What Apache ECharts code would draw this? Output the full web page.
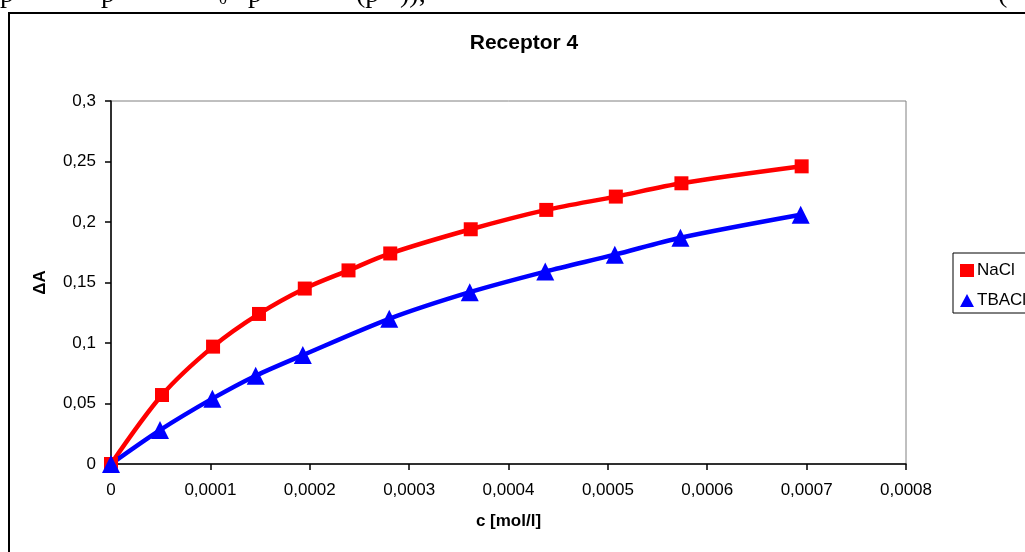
<!DOCTYPE html>
<html>
<head>
<meta charset="utf-8">
<script src="https://cdn.jsdelivr.net/npm/echarts@6/dist/echarts.min.js"></script>
<style>
html,body{margin:0;padding:0;background:#fff;}
#chart{width:1025px;height:552px;}
</style>
</head>
<body>
<div id="chart"></div>
<script>
var chartTitle = 'Receptor 4';
var xName = 'c [mol/l]';
var yName = '\u0394A';
var seriesNames = ['NaCl', 'TBACl'];
var cNaCl = [0, 0.0000513, 0.0001027, 0.0001489, 0.000195, 0.000239, 0.000281, 0.000362, 0.000438, 0.000508, 0.000574, 0.000695];
var aNaCl = [0, 0.057, 0.097, 0.124, 0.145, 0.160, 0.174, 0.194, 0.210, 0.221, 0.232, 0.246];
var cTBACl = [0, 0.0000493, 0.000102, 0.0001456, 0.000193, 0.00028, 0.000361, 0.000437, 0.000507, 0.000573, 0.000694];
var aTBACl = [0, 0.028, 0.054, 0.073, 0.090, 0.120, 0.142, 0.159, 0.173, 0.187, 0.206];
var topTextPieces = [['p', 0], ['p', 101], ['p', 248], ['(p', 356], [')),', 400], ['(', 998]];
var topSubscript = ['0', 219];

function zip(xs, ys) { return xs.map(function (x, i) { return [x, ys[i]]; }); }
function fmt(v) { return String(parseFloat(v.toFixed(6))).replace('.', ','); }

var FONT = '"Liberation Sans", Arial, sans-serif';
var chart = echarts.init(document.getElementById('chart'));

var graphics = [
  { type: 'rect', shape: { x: 9, y: 13, width: 1040, height: 560 }, style: { fill: 'none', stroke: '#000', lineWidth: 2 }, silent: true },
  { type: 'text', x: 524, y: 43, style: { text: chartTitle, font: 'bold 21px ' + FONT, fill: '#000', textAlign: 'center', textVerticalAlign: 'middle' } }
];
topTextPieces.forEach(function (p) {
  graphics.push({ type: 'text', x: p[1], y: -19, style: { text: p[0], font: '28px "Liberation Serif", serif', fill: '#000', textAlign: 'left', textVerticalAlign: 'top' } });
});
graphics.push({ type: 'text', x: topSubscript[1], y: -8, style: { text: topSubscript[0], font: '16px "Liberation Serif", serif', fill: '#000', textAlign: 'left', textVerticalAlign: 'top' } });

chart.setOption({
  animation: false,
  backgroundColor: '#fff',
  textStyle: { fontFamily: FONT },
  graphic: graphics,
  legend: {
    orient: 'vertical',
    left: 953,
    top: 253,
    padding: [9, 20, 4, 7],
    itemGap: 13,
    itemWidth: 14,
    itemHeight: 13,
    borderColor: '#000',
    borderWidth: 1,
    borderRadius: 0,
    textStyle: { fontFamily: FONT, fontSize: 17, color: '#000', padding: [0, 0, 0, -2] },
    data: [
      { name: seriesNames[0], icon: 'rect' },
      { name: seriesNames[1], icon: 'triangle' }
    ]
  },
  grid: { left: 111, right: 119, top: 101, bottom: 88, show: true, borderColor: '#808080', borderWidth: 1, backgroundColor: 'transparent' },
  xAxis: {
    type: 'value', min: 0, max: 0.0008, interval: 0.0001,
    name: xName, nameLocation: 'middle', nameGap: 49,
    nameTextStyle: { fontFamily: FONT, fontSize: 17, fontWeight: 'bold', color: '#000' },
    axisLine: { show: true, lineStyle: { color: '#000', width: 1.5 } },
    axisTick: { show: true, length: 6, lineStyle: { color: '#000', width: 1.5 } },
    axisLabel: { margin: 18, fontSize: 17, color: '#000', fontFamily: FONT, formatter: fmt },
    splitLine: { show: false }
  },
  yAxis: {
    type: 'value', min: 0, max: 0.3, interval: 0.05,
    name: yName, nameLocation: 'middle', nameGap: 62, nameRotate: 90,
    nameTextStyle: { fontFamily: FONT, fontSize: 17, fontWeight: 'bold', color: '#000' },
    axisLine: { show: true, lineStyle: { color: '#000', width: 1.5 } },
    axisTick: { show: true, length: 6, lineStyle: { color: '#000', width: 1.5 } },
    axisLabel: { margin: 15, fontSize: 17, color: '#000', fontFamily: FONT, formatter: fmt },
    splitLine: { show: false }
  },
  series: [
    {
      name: seriesNames[0], type: 'line', data: zip(cNaCl, aNaCl), smooth: 0.3,
      symbol: 'rect', symbolSize: 14, showAllSymbol: true,
      lineStyle: { color: '#ff0000', width: 4.5 },
      itemStyle: { color: '#ff0000', borderWidth: 0 }
    },
    {
      name: seriesNames[1], type: 'line', data: zip(cTBACl, aTBACl), smooth: 0.3,
      symbol: 'triangle', symbolSize: 18, showAllSymbol: true,
      lineStyle: { color: '#0000ff', width: 4.5 },
      itemStyle: { color: '#0000ff', borderWidth: 0 }
    }
  ]
});
</script>
</body>
</html>
